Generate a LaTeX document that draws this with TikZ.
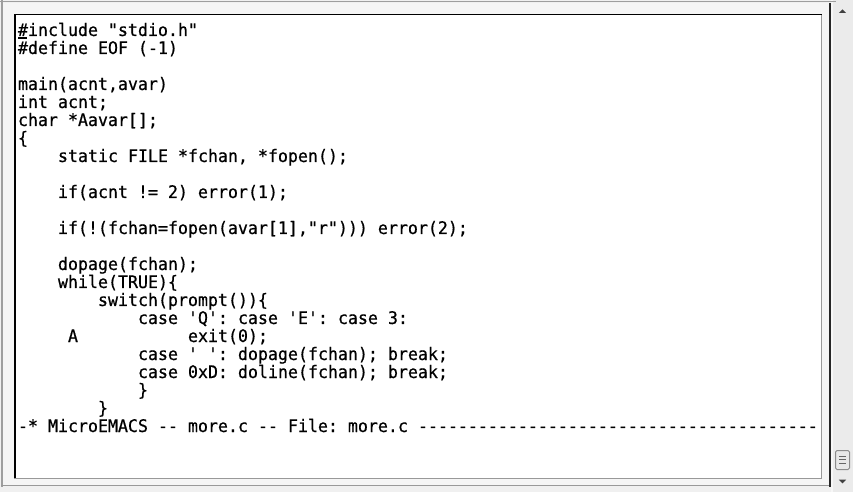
\documentclass[tikz,border=0pt]{standalone}
\usepackage{fontspec}
\setmonofont[FakeStretch=0.96,FakeBold=0.6]{DejaVu Sans Mono}
\newcommand\codeline[4]{\node[code] (#1) at ({18+10*#2},{36+18*#3}) {#4};}
\begin{document}
\begin{tikzpicture}[x=1bp,y=-1bp,
  code/.style={anchor=base west, inner sep=0pt, outer sep=0pt,
    font=\ttfamily\fontsize{17.3bp}{18bp}\selectfont, text=black},
  grip/.style={draw=black!60, line width=1bp}]
\useasboundingbox (0,0) rectangle (853,492);
% window background
\fill[black!6] (0,0) rectangle (853,492);
\fill[black!4] (3,3) rectangle (830,485);
% scrollbar track
\fill[black!8] (831,0) rectangle (853,492);
\fill[black!3] (831,0) rectangle (833,492);
% outer sunken frame
\draw[black!38, line width=1.5bp] (0,1.75) -- (836,1.75);
\draw[black!38, line width=1.5bp] (1.75,0) -- (1.75,487);
\draw[black!40, line width=1.2bp] (1,485.6) -- (831,485.6);
\draw[black!85, line width=1.5bp] (830.2,3) -- (830.2,487);
% text panel
\fill[white] (14,14) rectangle (822,478);
\draw[black!40, line width=1.2bp] (14,478.4) -- (821.8,478.4) -- (821.8,14);
\draw[black, line width=1.5bp] (14.75,478) -- (14.75,14.75) -- (822,14.75);
% scrollbar arrows and thumb
\fill[black!75] (838.8,13) -- (846.2,13) -- (842.5,9.3) -- cycle;
\fill[black!75] (838.8,479.6) -- (846.2,479.6) -- (842.5,483.3) -- cycle;
\draw[black!45, fill=black!9, rounded corners=1.5bp, line width=1bp] (835.5,450.5) rectangle (849.5,469.5);
\draw[grip] (839,456) -- (846,456);
\draw[grip] (839,459.5) -- (846,459.5);
\draw[grip] (839,463) -- (846,463);
% code
\codeline{l1}{0}{0}{\#include "stdio.h"}
\codeline{l2}{0}{1}{\#define EOF (-1)}
\codeline{l4}{0}{3}{main(acnt,avar)}
\codeline{l5}{0}{4}{int acnt;}
\codeline{l6}{0}{5}{char *Aavar[];}
\codeline{l7}{0}{6}{\{}
\codeline{l8}{4}{7}{static FILE *fchan, *fopen();}
\codeline{l10}{4}{9}{if(acnt != 2) error(1);}
\codeline{l12}{4}{11}{if(!(fchan=fopen(avar[1],"r"))) error(2);}
\codeline{l14}{4}{13}{dopage(fchan);}
\codeline{l15}{4}{14}{while(TRUE)\{}
\codeline{l16}{8}{15}{switch(prompt())\{}
\codeline{l17}{12}{16}{case 'Q': case 'E': case 3:}
\codeline{l18a}{5}{17}{A}
\codeline{l18b}{17}{17}{exit(0);}
\codeline{l19}{12}{18}{case ' ': dopage(fchan); break;}
\codeline{l20}{12}{19}{case 0xD: doline(fchan); break;}
\codeline{l21}{12}{20}{\}}
\codeline{l22}{8}{21}{\}}
\codeline{l23}{0}{22}{-* MicroEMACS -- more.c -- File: more.c ----------------------------------------}
% cursor
\fill[black] (18,37.5) rectangle (27,39.5);
\end{tikzpicture}
\end{document}
